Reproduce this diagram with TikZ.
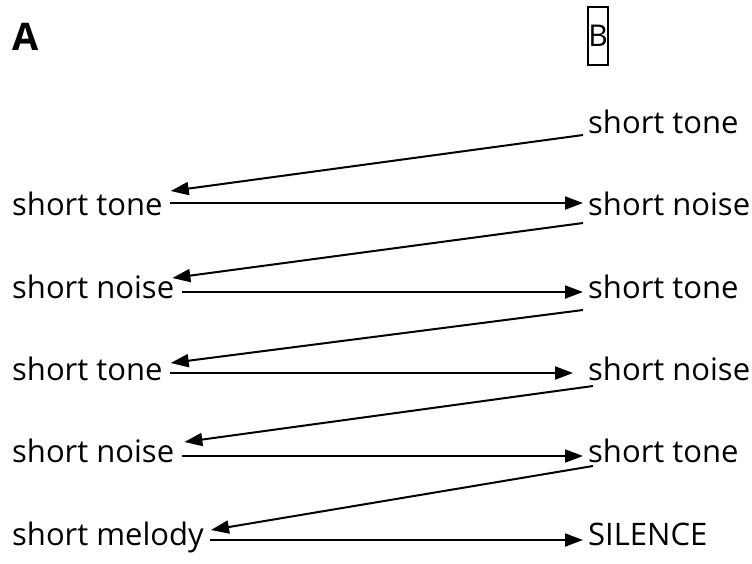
\documentclass[tikz,border=0pt]{standalone}
\usepackage{fontspec}
\setmainfont{Open Sans}
\usetikzlibrary{arrows.meta,positioning}

\begin{document}
\begin{tikzpicture}[x = 1pt, y = -1pt,
    lbl/.style = {anchor = base west, inner sep = 0pt, font = \fontsize{31}{33}\selectfont},
    arr/.style = {-{Triangle[length = 18pt, width = 13pt]}, line width = 2pt}]
    \useasboundingbox (0,0) rectangle (752,563);
    \node[anchor = base west, inner sep = 0pt, font = \fontsize{38}{40}\selectfont\bfseries] (a) at (12,50) {A};
    \node[draw, line width = 1.6pt, inner sep = 0pt, minimum width = 20pt, minimum height = 58pt, font = \fontsize{30}{32}\selectfont] (b) at (598,36) {B};
    % right column
    \node[lbl] (r0) at (588,133) {short tone};
    \node[lbl] (r1) at (588,215) {short noise};
    \node[lbl] (r2) at (588,298) {short tone};
    \node[lbl] (r3) at (588,380) {short noise};
    \node[lbl] (r4) at (588,462) {short tone};
    \node[lbl] (r5) at (588,545) {SILENCE};
    % left column
    \node[lbl] (l1) at (12,215) {short tone};
    \node[lbl] (l2) at (12,298) {short noise};
    \node[lbl] (l3) at (12,380) {short tone};
    \node[lbl] (l4) at (12,462) {short noise};
    \node[lbl] (l5) at (12,545) {short melody};
    % back to the left
    \draw[arr] ([xshift = -5pt, yshift = -2pt]r0.base west) -- ([xshift = 8pt, yshift = 24pt]l1.base east);
    \draw[arr] ([xshift = -5pt, yshift = -8pt]r1.base west) -- ([xshift = -2pt, yshift = 20pt]l2.base east);
    \draw[arr] ([xshift = -5pt, yshift = -12pt]r2.base west) -- ([xshift = 8pt, yshift = 17pt]l3.base east);
    \draw[arr] ([xshift = 5pt, yshift = -6pt]r3.base west) -- ([xshift = 10pt, yshift = 20pt]l4.base east);
    \draw[arr] ([xshift = 5pt, yshift = -4pt]r4.base west) -- ([xshift = 7pt, yshift = 15pt]l5.base east);
    % across to the right
    \draw[arr] ([xshift = 7pt, yshift = 12pt]l1.base east) -- ([xshift = -5pt, yshift = 12pt]r1.base west);
    \draw[arr] ([xshift = 8pt, yshift = 6pt]l2.base east) -- ([xshift = -5pt, yshift = 6pt]r2.base west);
    \draw[arr] ([xshift = 7pt, yshift = 7pt]l3.base east) -- ([xshift = -15pt, yshift = 7pt]r3.base west);
    \draw[arr] ([xshift = 8pt, yshift = 6pt]l4.base east) -- ([xshift = -5pt, yshift = 6pt]r4.base west);
    \draw[arr] ([xshift = 6pt, yshift = 5pt]l5.base east) -- ([xshift = -5pt, yshift = 5pt]r5.base west);
\end{tikzpicture}
\end{document}
